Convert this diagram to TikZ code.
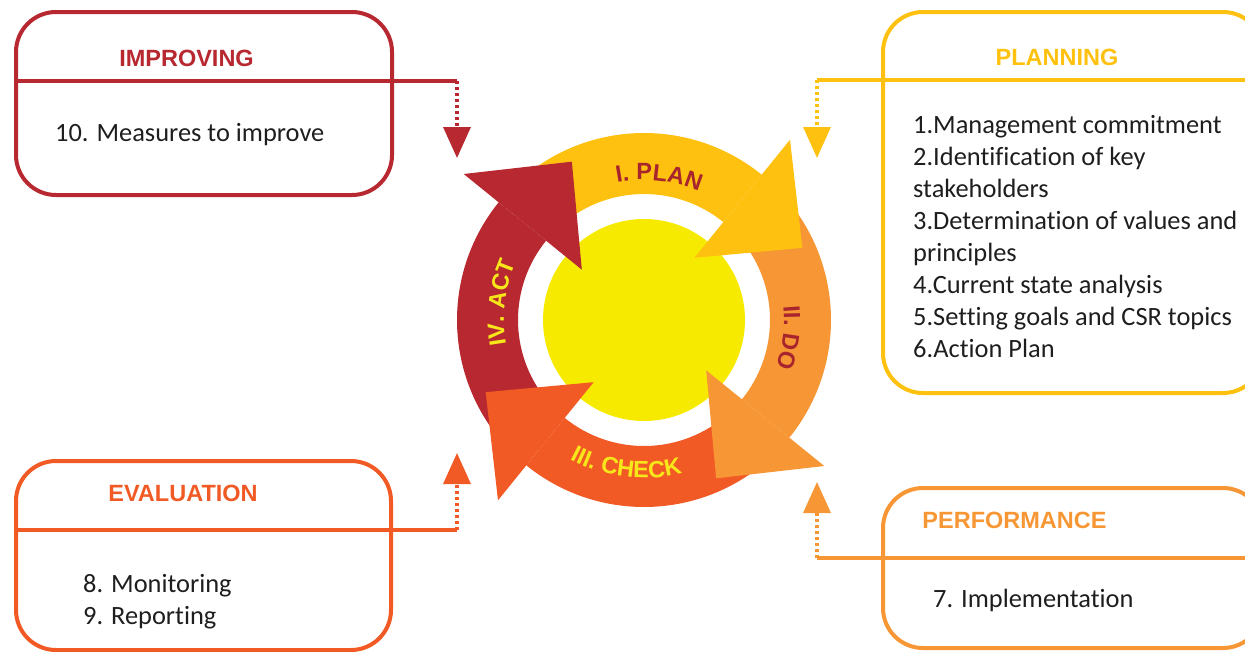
\documentclass[tikz,border=0pt]{standalone}
\usepackage{fontspec}
\setmainfont{Carlito}[Ligatures={NoCommon}]
\setsansfont{Liberation Sans}
\usetikzlibrary{arrows.meta,decorations.text}
\definecolor{cred}{HTML}{B72830}
\definecolor{cplan}{HTML}{FEC110}
\definecolor{cdo}{HTML}{F79634}
\definecolor{ccheck}{HTML}{F15A24}
\definecolor{ccore}{HTML}{F6EB00}
\definecolor{clabred}{HTML}{A8252E}
\definecolor{clabyel}{HTML}{F7E71A}
\definecolor{ctxt}{HTML}{1E1E1E}
\newcommand{\cyclab}{\sffamily\bfseries\fontsize{23.5}{23.5}\selectfont}
\begin{document}
\begin{tikzpicture}[x=1pt,y=1pt,
  box/.style={draw, line width=4pt, rounded corners=40pt, inner sep=0pt, outer sep=0pt},
  title/.style={font=\sffamily\bfseries\fontsize{23.5}{28}\selectfont, inner sep=0pt},
  body/.style={font=\fontsize{26.4}{32}\selectfont, inner sep=0pt, anchor=base west, align=left, text=ctxt},
  divider/.style={line width=3.5pt},
  feed/.style={line width=3.5pt, dash pattern=on 3pt off 3pt, -{Triangle[width=27pt,length=31pt]}},
  cyctext/.style={decorate, decoration={text along path, text align=center, text color=#1}}
]
\useasboundingbox (0,0) rectangle (1245,-651);
\clip (0,0) rectangle (1245,-651);

% boxes
\node[box, draw=cred, minimum width=376pt, minimum height=183pt] (impbox) at (204,-103.5) {};
\node[box, draw=cplan, minimum width=380pt, minimum height=381pt] (planbox) at (1073,-202.5) {};
\node[box, draw=ccheck, minimum width=375pt, minimum height=189pt] (evalbox) at (203.5,-555.5) {};
\node[box, draw=cdo, minimum width=380pt, minimum height=160pt] (perfbox) at (1073,-568) {};

% dividers and feedback connectors
\coordinate (impC) at (457,-81);
\coordinate (impT) at (457,-158);
\draw[divider, cred] (impbox.west |- impC) -- (impC);
\draw[feed, cred] (impC) -- (impT);

\coordinate (planC) at (817,-80);
\coordinate (planT) at (817,-158);
\draw[divider, cplan] (planC) -- (planbox.east |- planC);
\draw[feed, cplan] (planC) -- (planT);

\coordinate (evalC) at (457,-530);
\coordinate (evalT) at (457,-453);
\draw[divider, ccheck] (evalbox.west |- evalC) -- (evalC);
\draw[feed, ccheck] (evalC) -- (evalT);

\coordinate (perfC) at (817,-558);
\coordinate (perfT) at (817,-482);
\draw[divider, cdo] (perfC) -- (perfbox.east |- perfC);
\draw[feed, cdo] (perfC) -- (perfT);

% titles and texts (multi-line nodes anchored at the baseline of their last line)
\node[title, text=cred] (imptitle) at (186.5,-58.5) {IMPROVING};
\node[body] (imptext) at (55,-141) {10. Measures to improve};
\node[title, text=cplan] (plantitle) at (1057,-57) {PLANNING};
\node[body] (plantext) at (913,-357) {1.Management commitment\\2.Identification of key\\stakeholders\\3.Determination of values and\\principles\\4.Current state analysis\\5.Setting goals and CSR topics\\6.Action Plan};
\node[title, text=ccheck] (evaltitle) at (183,-493.5) {EVALUATION};
\node[body] (evaltext) at (83,-624) {8. Monitoring\\9. Reporting};
\node[title, text=cdo] (perftitle) at (1014.5,-520.5) {PERFORMANCE};
\node[body] (perftext) at (933,-607.7) {7. Implementation};

% cycle
\begin{scope}[shift={(644,-320)}]
  \fill[cplan] (129:187) arc[start angle=129, end angle=51, radius=187] -- (51:126) arc[start angle=51, end angle=129, radius=126] -- cycle;
  \fill[cdo] (39:187) arc[start angle=39, end angle=-39, radius=187] -- (-39:126) arc[start angle=-39, end angle=39, radius=126] -- cycle;
  \fill[ccheck] (-51:187) arc[start angle=-51, end angle=-129, radius=187] -- (-129:126) arc[start angle=-129, end angle=-51, radius=126] -- cycle;
  \fill[cred] (219:187) arc[start angle=219, end angle=141, radius=187] -- (141:126) arc[start angle=141, end angle=219, radius=126] -- cycle;
  \node[circle, fill=ccore, minimum size=202pt, inner sep=0pt] (core) at (0,0) {};
  \fill[cplan] (51:80) -- (51:232) -- (24.5:174) -- cycle;
  \fill[cdo] (-39:80) -- (-39:232) -- (-65.5:174) -- cycle;
  \fill[ccheck] (-129:80) -- (-129:232) -- (-155.5:174) -- cycle;
  \fill[cred] (141:80) -- (141:232) -- (114.5:174) -- cycle;
  \path[cyctext=clabred, decoration={text={|\cyclab|I. PLAN}}] (124:140) arc[start angle=124, end angle=44, radius=140];
  \path[cyctext=clabred, decoration={text={|\cyclab|II. DO}}] (33:140) arc[start angle=33, end angle=-47, radius=140];
  \path[cyctext=clabyel, decoration={text={|\cyclab|III. CHECK}}] (-137:158) arc[start angle=-137, end angle=-57, radius=158];
  \path[cyctext=clabyel, decoration={text={|\cyclab|IV. ACT}}] (213:140) arc[start angle=213, end angle=133, radius=140];
\end{scope}
\end{tikzpicture}
\end{document}
